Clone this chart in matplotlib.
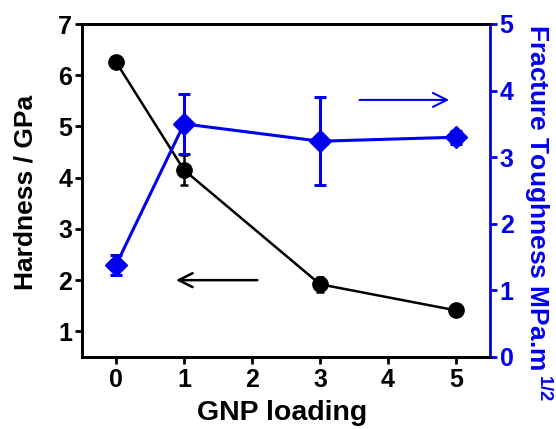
import matplotlib
matplotlib.use("Agg")
import matplotlib.pyplot as plt

plt.rcParams['font.family'] = ['Liberation Sans', 'DejaVu Sans']
plt.rcParams['mathtext.default'] = 'regular'

gnp = [0, 1, 3, 5]
hardness = [6.26, 4.15, 1.92, 1.41]
hardness_err = [0.1, 0.3, 0.15, 0.06]
toughness = [1.38, 3.5, 3.24, 3.3]
toughness_err = [0.15, 0.45, 0.66, 0.1]
xticks = [0, 1, 2, 3, 4, 5]
hticks = [1, 2, 3, 4, 5, 6, 7]
tticks = [0, 1, 2, 3, 4, 5]

blue = '#0000ee'
W, H = 556, 429

fig = plt.figure(figsize=(W/100, H/100), dpi=100)
ax = fig.add_axes([82/W, 1-357/H, (490-82)/W, (357-24)/H])
ax2 = ax.twinx()

ax.errorbar(gnp, hardness, yerr=hardness_err, color='black', marker='o', markersize=11,
            lw=1.8, capsize=3, elinewidth=1.8, capthick=1.8, zorder=3)
ax2.errorbar(gnp, toughness, yerr=toughness_err, color=blue, marker='D', markersize=11,
             lw=2.2, capsize=4, elinewidth=2.2, capthick=2.2, zorder=3)

ax.set_xlim(-0.5, 5.5)
ax.set_ylim(0.5, 7)
ax2.set_ylim(0, 5)
ax.set_xticks(xticks)
ax.set_yticks(hticks)
ax2.set_yticks(tticks)

for a in (ax, ax2):
    a.tick_params(direction='out', length=5, width=2, labelsize=18)
    for lab in a.get_xticklabels() + a.get_yticklabels():
        lab.set_fontweight('bold')
ax.tick_params(axis='x', pad=3)
ax.tick_params(axis='y', pad=2)
ax2.tick_params(axis='y', colors=blue, pad=2)
for side in ('left', 'bottom', 'top'):
    ax.spines[side].set_linewidth(2)
    ax2.spines[side].set_linewidth(2)
ax2.spines['right'].set_color(blue)
ax2.spines['right'].set_linewidth(2)
ax.spines['right'].set_visible(False)

fig.text(282/W, 1-413/H, 'GNP loading', fontsize=20.5, fontweight='bold',
         ha='center', va='center')
fig.text(26/W, 1-192/H, 'Hardness / GPa', fontsize=19, fontweight='bold',
         ha='center', va='center', rotation=90)
fig.text(538/W, 1-213/H, 'Fracture Toughness MPa.m$\\,^{1/2}$', fontsize=19,
         fontweight='bold', color=blue, ha='center', va='center', rotation=270)

ax.annotate('', xy=(0.84, 2.0), xytext=(2.12, 2.0),
            arrowprops=dict(arrowstyle='->', color='black', lw=1.8, mutation_scale=25))
ax2.annotate('', xy=(4.94, 3.86), xytext=(3.54, 3.86),
             arrowprops=dict(arrowstyle='->', color=blue, lw=1.5, mutation_scale=25))

fig.savefig('out.png', dpi=100)
